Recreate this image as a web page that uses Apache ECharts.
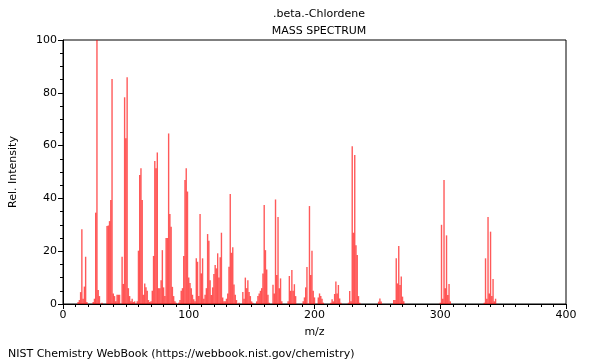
<!DOCTYPE html>
<html>
<head>
<meta charset="utf-8">
<script src="https://cdn.jsdelivr.net/npm/echarts@6/dist/echarts.min.js"></script>
<style>html,body{margin:0;padding:0;background:#fff}#c{width:600px;height:360px}</style>
</head>
<body>
<div id="c"></div>
<script>
var titleText = ".beta.-Chlordene";
var subtitleText = "MASS SPECTRUM";
var footerText = "NIST Chemistry WebBook (https://webbook.nist.gov/chemistry)";
var xTicks = [0, 100, 200, 300, 400];
var yTicks = [0, 20, 40, 60, 80, 100];
var mz = [
  12, 13, 14, 15, 16, 17, 18, 19, 24, 25,
  26, 27, 28, 29, 31, 35, 36, 37, 38, 39,
  40, 41, 42, 43, 44, 45, 47, 48, 49, 50,
  51, 52, 53, 54, 55, 56, 57, 59, 60, 61,
  62, 63, 64, 65, 66, 67, 68, 69, 70, 71,
  72, 73, 74, 75, 76, 77, 78, 79, 80, 81,
  82, 83, 84, 85, 86, 87, 88, 89, 90, 92,
  93, 94, 95, 96, 97, 98, 99, 100, 101, 102,
  103, 104, 105, 106, 107, 108, 109, 110, 111, 112,
  113, 114, 115, 116, 117, 118, 119, 120, 121, 122,
  123, 124, 125, 126, 127, 128, 129, 130, 131, 132,
  133, 134, 135, 136, 137, 138, 140, 143, 144, 145,
  146, 147, 148, 149, 150, 151, 154, 155, 156, 157,
  158, 159, 160, 161, 162, 163, 164, 167, 168, 169,
  170, 171, 172, 173, 174, 179, 180, 181, 182, 183,
  184, 185, 191, 192, 193, 194, 196, 197, 198, 199,
  200, 203, 204, 205, 206, 207, 213, 214, 215, 216,
  217, 218, 219, 220, 221, 227, 228, 229, 230, 231,
  232, 233, 234, 235, 236, 251, 252, 253, 263, 264,
  265, 266, 267, 268, 269, 270, 271, 300, 301, 302,
  303, 304, 305, 306, 307, 308, 335, 336, 337, 338,
  339, 340, 341, 342, 343, 344
];
var intensity = [
  0.8, 1.5, 4.5, 28.3, 2, 6.6, 17.9, 0.8, 0.8, 2,
  34.6, 100, 5.3, 3, 0.5, 29.5, 29.7, 31.4, 39.4, 85.2,
  4, 3, 1, 3.5, 3.5, 3.5, 17.9, 7.6, 78.3, 62.8,
  85.9, 6, 3, 1, 2, 0.8, 1, 1, 20.2, 48.9,
  51.4, 39.4, 3.5, 7.8, 6.3, 5, 1.5, 0.8, 1, 5,
  18.2, 54.2, 51.4, 57.4, 6, 6, 9, 20.4, 6.3, 3,
  25, 25, 64.6, 34.1, 29.3, 6.5, 3, 1, 0.5, 0.5,
  1.5, 5, 6, 18.2, 47, 51.4, 42.6, 10, 8, 6,
  3.5, 1.8, 1, 17.3, 16, 3, 34.1, 11.6, 17.3, 2,
  3.5, 6, 26.5, 24, 9, 3.4, 6.3, 11.4, 14.8, 13.5,
  19.2, 10, 17.7, 27, 2.5, 1, 1, 2, 4, 14.1,
  41.7, 19.4, 21.5, 7.4, 3.5, 1.5, 0.5, 4.5, 2, 10,
  6, 9, 4.5, 3, 1, 0.5, 1, 3, 4, 5,
  6, 11.6, 37.5, 20.4, 13.1, 3.5, 0.5, 7.3, 4, 39.6,
  11, 33, 6, 9.7, 1, 1, 10.6, 5, 12.9, 5,
  7.5, 3, 1, 2.5, 6.3, 14, 37.1, 11, 20.2, 5,
  2.5, 2.5, 4, 3, 2, 0.5, 0.5, 1.8, 1, 3.8,
  8.5, 4, 7.2, 2.1, 0.5, 0.5, 4.9, 1, 59.8, 27,
  56.4, 22.3, 18.6, 3, 0.5, 0.9, 2.1, 0.9, 1.5, 1.5,
  17.3, 7.8, 22, 7.2, 10.4, 2.8, 1, 0.5, 30, 2,
  47, 6, 26, 3.4, 7.6, 1, 0.5, 17.3, 2, 33,
  4, 27.4, 3, 9.5, 1, 2
];

var data = mz.map(function (m, i) { return [m, intensity[i]]; });
var font = 'DejaVu Sans';
var chart = echarts.init(document.getElementById('c'), null, {renderer: 'canvas'});
chart.setOption({
  animation: false,
  backgroundColor: '#fff',
  title: [
    {text: titleText, left: 314, top: 4, textAlign: 'center', textStyle: {fontFamily: font, fontSize: 11, fontWeight: 'normal', color: '#000'}},
    {text: subtitleText, left: 314, top: 21, textAlign: 'center', textStyle: {fontFamily: font, fontSize: 11, fontWeight: 'normal', color: '#000'}},
    {text: footerText, left: 3, top: 344, textStyle: {fontFamily: font, fontSize: 11, fontWeight: 'normal', color: '#000'}}
  ],
  grid: {left: 62, right: 34, top: 40, bottom: 56, show: true, borderColor: '#000', borderWidth: 1, backgroundColor: 'transparent'},
  xAxis: {
    type: 'value', min: xTicks[0], max: xTicks[xTicks.length - 1], interval: 100,
    name: 'm/z', nameLocation: 'middle', nameGap: 23,
    nameTextStyle: {fontFamily: font, fontSize: 11, color: '#000'},
    axisLine: {lineStyle: {color: '#000', width: 1}},
    axisTick: {show: true, length: 5, lineStyle: {color: '#000'}},
    minorTick: {show: true, splitNumber: 10, length: 3, lineStyle: {color: '#000'}},
    axisLabel: {fontFamily: font, fontSize: 11, color: '#000', margin: 6},
    splitLine: {show: false}
  },
  yAxis: {
    type: 'value', min: yTicks[0], max: yTicks[yTicks.length - 1], interval: 20,
    name: 'Rel. Intensity', nameLocation: 'middle', nameGap: 44, nameRotate: 90,
    nameTextStyle: {fontFamily: font, fontSize: 11, color: '#000'},
    axisLine: {show: true, lineStyle: {color: '#000', width: 1}},
    axisTick: {show: true, length: 5, lineStyle: {color: '#000'}},
    minorTick: {show: true, splitNumber: 4, length: 3, lineStyle: {color: '#000'}},
    axisLabel: {fontFamily: font, fontSize: 11, color: '#000', margin: 6},
    splitLine: {show: false}
  },
  series: [{
    type: 'bar', data: data, barWidth: 1.4, barGap: '-100%',
    itemStyle: {color: 'rgba(255,0,0,0.65)'}
  }]
});
</script>
</body>
</html>
